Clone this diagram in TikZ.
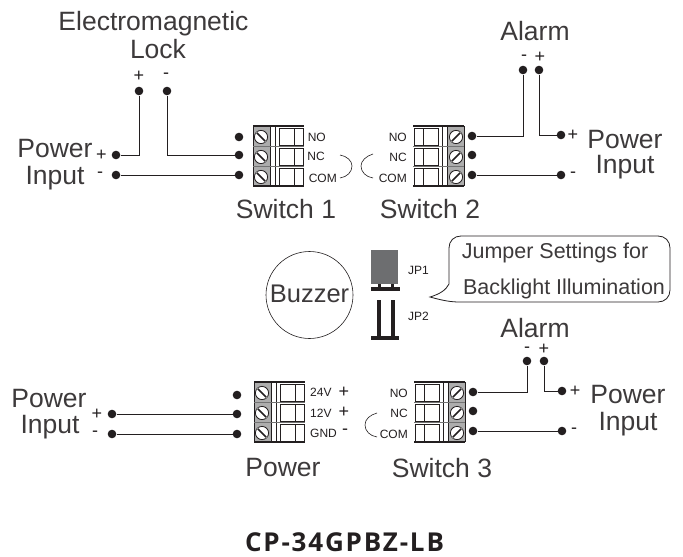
\documentclass[tikz,border=0pt]{standalone}
\usepackage{fontspec}
\setmainfont{Liberation Sans}
\newfontfamily\titlefont[LetterSpace=7]{Open Sans}
\definecolor{ink}{HTML}{231F20}
\definecolor{jgray}{HTML}{6D6E70}
\tikzset{
  x=1pt,y=-1pt,
  dotn/.style={circle,fill=ink,inner sep=0pt,minimum size=8.6pt},
  wire/.style={draw=ink,line width=0.95pt},
  big/.style={anchor=base,inner sep=0pt,text=ink!88!white,font=\fontsize{26.5}{30}\selectfont},
  mid/.style={anchor=base,inner sep=0pt,text=ink!88!white,font=\fontsize{21.5}{25}\selectfont},
  small/.style={anchor=base east,inner sep=0pt,text=ink,font=\fontsize{12}{14}\selectfont},
  smalll/.style={anchor=base west,inner sep=0pt,text=ink,font=\fontsize{12}{14}\selectfont},
  sign/.style={anchor=center,inner sep=0pt,text=ink,font=\fontsize{18}{18}\selectfont},
  note/.style={draw=ink,line width=0.6pt},
  tbl/.pic={
    \fill[black!32] (0,0) rectangle (17,60);
    \foreach \r in {0,1,2}{
      \draw[line width=0.9pt,ink,fill=white] (26,2+\r*20) rectangle (50,19+\r*20);
      \draw[line width=0.9pt,ink] (41,2+\r*20) -- (41,19+\r*20);
      \draw[line width=0.8pt,ink,fill=white] (8,11+\r*20) circle (6.6);
      \draw[white,line width=2.8pt] (3.6,6.6+\r*20) -- (12.4,15.4+\r*20);
      \draw[ink,line width=1.6pt] (3.8,6.8+\r*20) -- (12.2,15.2+\r*20);
    }
    \draw[line width=1.3pt,ink] (0,0) -- (51,0);
    \draw[line width=1.3pt,ink] (0,60) -- (51,60);
    \draw[line width=0.9pt,ink] (0,0) -- (0,60);
    \draw[line width=0.9pt,ink] (17,0) -- (17,60);
    \draw[line width=0.9pt,ink] (22,0) -- (22,60);
    \draw[line width=0.5pt,black!55] (0,20) -- (51,20) (0,40) -- (51,40);
  }
}
\begin{document}
\begin{tikzpicture}
\useasboundingbox (0,0) rectangle (683,557);
\fill[white] (0,0) rectangle (683,557);

% terminal blocks
\pic at (253,126) {tbl};
\pic[xscale=-1] at (464,126) {tbl};
\pic at (254,382) {tbl};
\pic[xscale=-1] at (465,382) {tbl};

% Switch 1 group
\node[big] (emt) at (153.5,30) {Electromagnetic};
\node[big] (lockt) at (158,58) {Lock};
\node[sign] (lockp) at (139,76) {+};
\node[sign] (lockm) at (166,76) {-};
\node[dotn] (a1) at (139,91) {};
\node[dotn] (a2) at (167,91) {};
\node[dotn] (a3) at (116,155) {};
\node[dotn] (a4) at (116,175) {};
\node[dotn] (s1a) at (239,137) {};
\node[dotn] (s1b) at (239,155) {};
\node[dotn] (s1c) at (239,175) {};
\draw[wire] (a3) -| (a1);
\draw[wire] (s1b) -| (a2);
\draw[wire] (a4) -- (s1c);
\node[big] (pw1) at (55,157) {Power};
\node[big] (in1) at (55,184) {Input};
\node[sign] (p1) at (101.5,155) {+};
\node[sign] (m1) at (100,175) {-};
\node[small] (s1no) at (326,141) {NO};
\node[small] (s1nc) at (325,160) {NC};
\node[small] (s1com) at (337,182) {COM};
\node[big] (sw1) at (286,218) {Switch 1};

% Switch 2 group
\node[big] (al1) at (535,40) {Alarm};
\node[sign] (al1m) at (524,58) {-};
\node[sign] (al1p) at (540,57) {+};
\node[dotn] (b1) at (523,70) {};
\node[dotn] (b2) at (539,70) {};
\node[dotn] (s2a) at (472,136) {};
\node[dotn] (s2b) at (472,155) {};
\node[dotn] (s2c) at (472,175) {};
\node[dotn] (b3) at (561,135) {};
\node[dotn] (b4) at (561,175) {};
\draw[wire] (s2a) -| (b1);
\draw[wire] (b3) -| (b2);
\draw[wire] (s2c) -- (b4);
\node[sign] (p2) at (573,135) {+};
\node[sign] (m2) at (573,175) {-};
\node[big] (pw2) at (625,148) {Power};
\node[big] (in2) at (625,173) {Input};
\node[small] (s2no) at (407,141) {NO};
\node[small] (s2nc) at (407,161) {NC};
\node[small] (s2com) at (407,182) {COM};
\node[big] (sw2) at (430,218) {Switch 2};

% arcs
\draw[note] (340,155) .. controls (347,156) and (352,161) .. (352,166) .. controls (352,172) and (347,177) .. (340,178);
\draw[note] (373,154) .. controls (366,156) and (361,161) .. (361,166) .. controls (361,172) and (366,177) .. (373,178);
\draw[note] (377,413) .. controls (370,415) and (365,419) .. (365,425) .. controls (365,431) and (370,436) .. (377,437);

% middle
\node[circle,draw=ink,line width=0.6pt,minimum size=87pt,inner sep=0pt] (buzc) at (309.5,295) {};
\node[mid,font=\fontsize{25.5}{30}\selectfont] (buzt) at (309.5,302) {Buzzer};
\fill[jgray] (371,250) rectangle (398,284);
\fill[ink] (371,287) rectangle (400,291);
\fill[ink] (378,284) rectangle (381,288);
\fill[ink] (391,284) rectangle (394,288);
\fill[ink] (376.5,300) rectangle (380.5,337);
\fill[ink] (390.5,300) rectangle (394.5,337);
\fill[ink] (371,336) rectangle (399,340);
\node[smalll] (jp1) at (408,274) {JP1};
\node[smalll] (jp2) at (408,320) {JP2};
\draw[note,line width=0.8pt] (461,236) -- (658,236) .. controls (665,236) and (670,241) .. (670,248) -- (670,290) .. controls (670,297) and (665,302) .. (658,302) -- (462,302) .. controls (454,302) and (448,302) .. (430,297) .. controls (440,294) and (446,290) .. (449,284) -- (449,248) .. controls (449,241) and (454,236) .. (461,236) -- cycle;
\node[mid] (call1) at (555,258) {Jumper Settings for};
\node[mid] (call2) at (564,294) {Backlight Illumination};

% Power group
\node[big] (pw3) at (49,407) {Power};
\node[big] (in3) at (50,433) {Input};
\node[sign] (p3) at (97,414) {+};
\node[sign] (m3) at (95,434) {-};
\node[dotn] (c1) at (112,414) {};
\node[dotn] (c2) at (112,434) {};
\node[dotn] (pa) at (237,395) {};
\node[dotn] (pb) at (237,414) {};
\node[dotn] (pc) at (237,434) {};
\draw[wire] (c1) -- (pb);
\draw[wire] (c2) -- (pc);
\node[smalll] (v24) at (310,396) {24V};
\node[smalll] (v12) at (310,417) {12V};
\node[smalll] (gnd) at (310,437) {GND};
\node[sign] (vp1) at (344,392) {+};
\node[sign] (vp2) at (344,412) {+};
\node[sign] (vm) at (345,432) {-};
\node[big] (pwl) at (283,476) {Power};

% Switch 3 group
\node[big] (al3) at (535,337) {Alarm};
\node[sign] (al3m) at (527,350) {-};
\node[sign] (al3p) at (544,349) {+};
\node[dotn] (d1) at (527,361) {};
\node[dotn] (d2) at (544,361) {};
\node[dotn] (s3a) at (473,392) {};
\node[dotn] (s3b) at (473,411) {};
\node[dotn] (s3c) at (473,431) {};
\node[dotn] (d3) at (562,391) {};
\node[dotn] (d4) at (562,431) {};
\draw[wire] (s3a) -| (d1);
\draw[wire] (d3) -| (d2);
\draw[wire] (s3c) -- (d4);
\node[sign] (p4) at (575,391) {+};
\node[sign] (m4) at (574,431) {-};
\node[big] (pw4) at (628,403) {Power};
\node[big] (in4) at (628,430) {Input};
\node[small] (s3no) at (408,397) {NO};
\node[small] (s3nc) at (408,417) {NC};
\node[small] (s3com) at (408,438) {COM};
\node[big] (sw3) at (442,477) {Switch 3};

\node[anchor=base,inner sep=0pt,text=ink,font=\titlefont\bfseries\fontsize{26}{30}\selectfont] (title) at (344.5,551) {CP-34GPBZ-LB};
\end{tikzpicture}
\end{document}
